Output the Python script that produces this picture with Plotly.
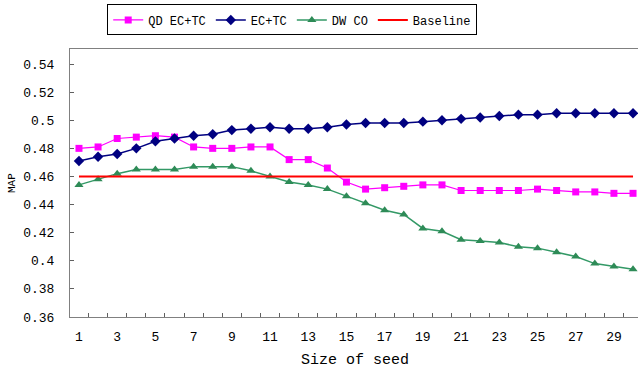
import plotly.graph_objects as go

seed_size = list(range(1, 31))
qd_ectc = [0.480, 0.481, 0.487, 0.488, 0.489, 0.488, 0.481, 0.480, 0.480, 0.481,
           0.481, 0.472, 0.472, 0.466, 0.456, 0.451, 0.452, 0.453, 0.454, 0.454,
           0.450, 0.450, 0.450, 0.450, 0.451, 0.450, 0.449, 0.449, 0.448, 0.448]
ectc = [0.471, 0.474, 0.476, 0.480, 0.485, 0.487, 0.489, 0.490, 0.493, 0.494,
        0.495, 0.494, 0.494, 0.495, 0.497, 0.498, 0.498, 0.498, 0.499, 0.500,
        0.501, 0.502, 0.503, 0.504, 0.504, 0.505, 0.505, 0.505, 0.505, 0.505]
dw_co = [0.454, 0.458, 0.462, 0.465, 0.465, 0.465, 0.467, 0.467, 0.467, 0.464,
         0.460, 0.456, 0.454, 0.451, 0.446, 0.441, 0.436, 0.433, 0.423, 0.421,
         0.415, 0.414, 0.413, 0.410, 0.409, 0.406, 0.403, 0.398, 0.396, 0.394]
baseline = [0.46] * 30

y_ticks = [0.36, 0.38, 0.40, 0.42, 0.44, 0.46, 0.48, 0.50, 0.52, 0.54]
y_tick_labels = ["0.36", "0.38", "0.4", "0.42", "0.44", "0.46", "0.48", "0.5", "0.52", "0.54"]
x_ticks = [1, 3, 5, 7, 9, 11, 13, 15, 17, 19, 21, 23, 25, 27, 29]

FONT = "Liberation Mono"

fig = go.Figure()
fig.add_trace(go.Scatter(x=seed_size, y=qd_ectc, name="QD EC+TC", mode="lines+markers",
                         line=dict(color="#FF00FF", width=1.2),
                         marker=dict(symbol="square", size=7, color="#FF00FF")))
fig.add_trace(go.Scatter(x=seed_size, y=ectc, name="EC+TC", mode="lines+markers",
                         line=dict(color="#000080", width=1.5),
                         marker=dict(symbol="diamond", size=8, color="#000080")))
fig.add_trace(go.Scatter(x=seed_size, y=dw_co, name="DW CO", mode="lines+markers",
                         line=dict(color="#339966", width=1.5),
                         marker=dict(symbol="triangle-up", size=8, color="#2E8B57")))
fig.add_trace(go.Scatter(x=seed_size, y=baseline, name="Baseline", mode="lines",
                         line=dict(color="#FF0000", width=2)))

fig.update_layout(
    width=638, height=369,
    margin=dict(l=70, r=0, t=49, b=52),
    paper_bgcolor="white", plot_bgcolor="white",
    font=dict(family=FONT, size=13, color="black"),
    showlegend=True,
    legend=dict(orientation="h", xref="container", yref="container",
                x=0.458, y=0.988, xanchor="center", yanchor="top",
                bordercolor="black", borderwidth=1, bgcolor="white",
                font=dict(family=FONT, size=12), itemwidth=30),
    xaxis=dict(range=[0.53, 30.26], tickmode="array", tickvals=x_ticks,
               ticks="", showgrid=False, zeroline=False,
               showline=True, linecolor="#808080", linewidth=1, mirror=True,
               ticklabelstandoff=7,
               minor=dict(tickmode="array", tickvals=[v + 0.5 for v in seed_size[:-1]],
                          ticks="inside", ticklen=4, tickcolor="#606060", showgrid=False),
               tickfont=dict(family=FONT, size=13)),
    yaxis=dict(range=[0.36, 0.5507], tickmode="array", tickvals=y_ticks,
               ticktext=y_tick_labels, ticks="inside", ticklen=4, tickcolor="#606060",
               showgrid=False, zeroline=False,
               showline=True, linecolor="#808080", linewidth=1,
               ticklabelstandoff=12,
               tickfont=dict(family=FONT, size=13)),
    annotations=[
        dict(text="Size of seed", xref="paper", yref="paper", x=0.502, y=-0.162,
             xanchor="center", yanchor="middle", showarrow=False,
             font=dict(family=FONT, size=15)),
        dict(text="MAP", xref="paper", yref="paper", x=-0.102, y=0.5,
             xanchor="center", yanchor="middle", showarrow=False, textangle=-90,
             font=dict(family=FONT, size=11)),
    ],
)

fig.write_html("out.html", config={"displayModeBar": False},
               post_script="document.body.style.margin='0';document.body.style.padding='0';")
